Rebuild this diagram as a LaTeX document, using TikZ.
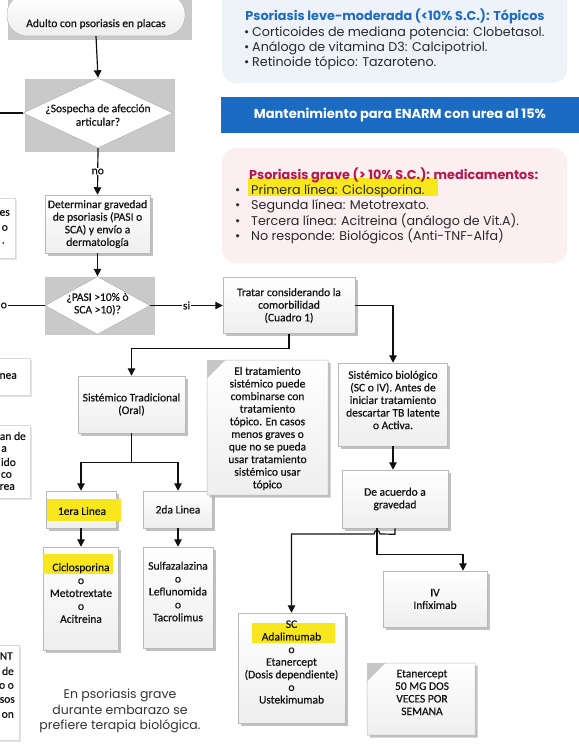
\documentclass[tikz,border=0pt]{standalone}
\usepackage{fontspec}
\setmainfont{Carlito}
\newfontfamily\fcfont{Carlito}[FakeBold=0.45]
\newfontfamily\pop{Poppins}
\usetikzlibrary{shapes.geometric,arrows.meta,shadows}
\definecolor{hl}{HTML}{F8E71C}
\definecolor{bluebox}{HTML}{EEF3FA}
\definecolor{bannerblue}{HTML}{1A6BC1}
\definecolor{titleblue}{HTML}{1F6CC2}
\definecolor{pinkbox}{HTML}{FCEFF2}
\definecolor{titlered}{HTML}{B8164C}
\definecolor{ink}{HTML}{111111}
\definecolor{bodyink}{HTML}{2A2A2A}
\begin{document}
\begin{tikzpicture}[x=1pt,y=-1pt,
  fc/.style={font=\fcfont\fontsize{11.5}{12.6}\selectfont, text=ink, align=center, inner sep=0pt},
  shad/.style={drop shadow={shadow xshift=2.5pt, shadow yshift=-2.5pt, fill=gray!60, opacity=0.8}},
  box/.style={fc, draw=gray!55, line width=0.5pt, top color=white, bottom color=gray!13, shad},
  lbox/.style={draw=gray!30, fill=white, line width=0.5pt, drop shadow={shadow xshift=1.5pt, shadow yshift=-1.5pt, fill=gray!30, opacity=0.7}},
  dia/.style={diamond, draw=gray!60, fill=white, inner sep=0pt, line width=0.5pt},
  bg/.style={fill=gray!42},
  arr/.style={-{Triangle[length=7.5pt,width=7.5pt]}, line width=1.2pt, draw=ink},
  ln/.style={line width=1.2pt, draw=ink},
  lab/.style={fc, fill=white, inner sep=1pt},
  hlt/.style={fill=hl},
  notebox/.style={draw=gray!55, line width=0.5pt, top color=white, bottom color=gray!13, shad},
  popbody/.style={font=\pop\fontsize{12.7}{15}\selectfont, text=bodyink, anchor=west, inner sep=0pt, text height=9.5pt, text depth=3pt},
  poptitle/.style={font=\pop\bfseries\fontsize{12.8}{15}\selectfont, inner sep=0pt},
]
\useasboundingbox (0,0) rectangle (578,746);
\fill[white] (0,0) rectangle (578,746);

% ---- left cut-off boxes
\path[lbox] (-40,198) rectangle (15,258);
\node[fc, anchor=east] (lba) at (10,213) {es};
\node[fc, anchor=east] (lbb) at (8,228) {o};
\node[fc, anchor=east] (lbc) at (5,243) {.};
\path[lbox] (-40,358) rectangle (30,395);
\node[fc, anchor=east] (lbd) at (17,376) {nea};
\path[lbox] (-40,425) rectangle (30,498);
\node[fc, anchor=east] (lbe) at (26,436) {an de};
\node[fc, anchor=east] (lbf) at (7,449) {a};
\node[fc, anchor=east] (lbg) at (16,462) {ido};
\node[fc, anchor=east] (lbh) at (12,475) {co};
\node[fc, anchor=east] (lbi) at (15,487) {rea};
\path[lbox] (-40,645) rectangle (19,740);
\node[fc, anchor=east] (lbj) at (13,656) {NT};
\node[fc, anchor=east] (lbk) at (14,671) {de};
\node[fc, anchor=east] (lbl) at (14,686) {o o};
\node[fc, anchor=east] (lbm) at (15,700) {sos};
\node[fc, anchor=east] (lbn) at (14,715) {on};

% ---- start terminal
\fill[bg] (8,-2) rectangle (192,40);
\node[fc, draw=gray!55, line width=0.5pt, top color=white, bottom color=gray!13, rounded corners=20pt, minimum width=178, minimum height=42] (start) at (96,15) {};
\node[fc] (startt) at (96,24) {Adulto con psoriasis en placas};

% ---- diamond 1
\fill[bg] (25,79) rectangle (175,152);
\node[dia, minimum width=150, minimum height=70] (d1) at (98,113) {};
\node[fc, font=\fcfont\fontsize{11.5}{13.5}\selectfont] (d1t) at (98,115) {¿Sospecha de afección\\articular?};
\coordinate (lftA) at (-3,113);

% ---- box determinar
\node[box, minimum width=105, minimum height=58] (box1) at (97.5,224) {Determinar gravedad\\de psoriasis (PASI o\\SCA) y envío a\\dermatología};

% ---- diamond 2
\fill[bg] (45,277) rectangle (155,335);
\node[dia, minimum width=105, minimum height=58] (d2) at (97.5,305.5) {};
\node[fc] (d2t) at (97.5,304) {¿PASI >10\% ò\\SCA >10)?};
\coordinate (lftB) at (-3,305.5);

% ---- tratar
\node[box, minimum width=132, minimum height=56] (tratar) at (289,305.5) {Tratar considerando la\\comorbilidad\\(Cuadro 1)};

% ---- sistemico biologico
\node[box, minimum width=109, minimum height=83] (sisbio) at (393,404.5) {};
\node[fc] (sisbiot) at (393,400) {Sistémico biológico\\(SC o IV). Antes de\\iniciar tratamiento\\descartar TB latente\\o Activa.};

% ---- sistemico tradicional
\node[box, minimum width=107, minimum height=57] (sistrad) at (131.5,404.5) {Sistémico Tradicional\\(Oral)};

% ---- linea boxes
\node[box, minimum width=70, minimum height=37] (l1) at (81,509.5) {};
\fill[hlt] (47,499) rectangle (121,521);
\node[fc] (l1t) at (82,511) {1era Linea};
\node[box, minimum width=69, minimum height=37] (l2) at (178,509.5) {2da Linea};

% ---- drug boxes
\node[box, minimum width=75, minimum height=103] (cic) at (81,598.5) {};
\fill[hlt] (43,554) rectangle (113,574);
\node[fc, font=\fcfont\fontsize{11.5}{12.9}\selectfont] (cict) at (81,593) {Ciclosporina\\o\\Metotrextate\\o\\Acitreina};
\node[box, minimum width=70, minimum height=101] (sul) at (178,597.5) {};
\node[fc, font=\fcfont\fontsize{11.5}{12.9}\selectfont] (sult) at (178,591.5) {Sulfazalazina\\o\\Leflunomida\\o\\Tacrolimus};

% ---- note 1
\path[notebox] (225,360) -- (328,360) -- (328,495) -- (207,495) -- (207,378) -- cycle;
\fill[gray!45] (207,360) -- (225,360) -- (207,378) -- cycle;
\node[fc] (note1) at (267.5,428.5) {El tratamiento\\sistémico puede\\combinarse con\\tratamiento\\tópico. En casos\\menos graves o\\que no se pueda\\usar tratamiento\\sistémico usar\\tópico};

% ---- de acuerdo
\node[box, minimum width=106, minimum height=58] (dag) at (395,499) {De acuerdo a\\gravedad};

% ---- IV
\node[box, minimum width=104, minimum height=56] (iv) at (435,599) {IV\\Infiximab};

% ---- SC
\node[box, minimum width=107, minimum height=110] (sc) at (291.5,668) {};
\fill[hlt] (252,623) rectangle (335,643);
\node[fc] (sct) at (291.5,662) {SC\\Adalimumab\\o\\Etanercept\\(Dosis dependiente)\\o\\Ustekimumab};

% ---- note 2
\path[notebox] (385,663) -- (475,663) -- (475,735) -- (367,735) -- (367,681) -- cycle;
\fill[gray!45] (367,663) -- (385,663) -- (367,681) -- cycle;
\node[fc] (note2) at (422,692.5) {Etanercept\\50 MG DOS\\VECES POR\\SEMANA};

% ---- connectors
\draw[arr] (start.south |- 0,36) -- (d1.north);
\draw[ln] (d1.west) -- (lftA);
\draw[arr] (d1.south) -- (box1.north) node[lab, midway] (noA) {no};
\draw[arr] (box1.south) -- (d2.north);
\draw[ln] (d2.west) -- (lftB);
\node[lab, anchor=east] (noB) at (8,305.5) {o};
\draw[arr] (d2.east) -- (tratar.west) node[lab, midway] (siA) {si};
\draw[arr] (tratar.east) -| (sisbio.north);
\draw[arr] (tratar.south) -- ++(0,15) -| (sistrad.north);
\draw[arr] (sistrad.south) -- ++(0,29) -| (l1.north);
\draw[arr] (sistrad.south) -- ++(0,29) -| (l2.north);
\draw[arr] (l1.south) -- (cic.north);
\draw[arr] (l2.south) -- (sul.north);
\draw[arr] (sisbio.south) -- (sisbio.south |- dag.north);
\draw[arr] (dag.south) -- ++(0,6) -- (380,534) .. controls (380,529.5) and (374,529.5) .. (374,534) -| (sc.north);
\draw[arr] ([xshift=-18pt]dag.south) -- ++(0,26) -| ([xshift=28pt]iv.north);

% ---- top right: blue box
\fill[bluebox, rounded corners=14pt] (222,-20) rectangle (567,83);
\node[poptitle, text=titleblue] (bt) at (395,16) {Psoriasis leve-moderada (<10\% S.C.): Tópicos};
\node[popbody] (b1) at (244,33) {\makebox[8pt][l]{•}Corticoides de mediana potencia: Clobetasol.};
\node[popbody] (b2) at (244,48) {\makebox[8pt][l]{•}Análogo de vitamina D3: Calcipotriol.};
\node[popbody] (b3) at (244,63) {\makebox[8pt][l]{•}Retinoide tópico: Tazaroteno.};

% ---- banner
\fill[bannerblue] (221,97) rectangle (580,133);
\node[poptitle, font=\pop\bfseries\fontsize{13}{15}\selectfont, text=white] (ban) at (400,115) {Mantenimiento para ENARM con urea al 15\%};

% ---- pink box
\fill[pinkbox, rounded corners=14pt] (222,148) rectangle (567,263);
\fill[hlt] (248,178) rectangle (438,196);
\node[poptitle, text=titlered, anchor=west] (ptt) at (249,175) {Psoriasis grave (> 10\% S.C.): medicamentos:};
\node[popbody] (p1) at (235,191) {\makebox[16pt][l]{•}Primera línea: Ciclosporina.};
\node[popbody] (p2) at (235,206.5) {\makebox[16pt][l]{•}Segunda línea: Metotrexato.};
\node[popbody] (p3) at (235,222) {\makebox[16pt][l]{•}Tercera línea: Acitreina (análogo de Vit.A).};
\node[popbody] (p4) at (235,237.5) {\makebox[16pt][l]{•}No responde: Biológicos (Anti-TNF-Alfa)};

% ---- bottom text
\node[font=\pop\fontsize{12.5}{15.5}\selectfont, text=black!80, align=center] (emb) at (120,711) {En psoriasis grave\\durante embarazo se\\prefiere terapia biológica.};
\end{tikzpicture}
\end{document}
